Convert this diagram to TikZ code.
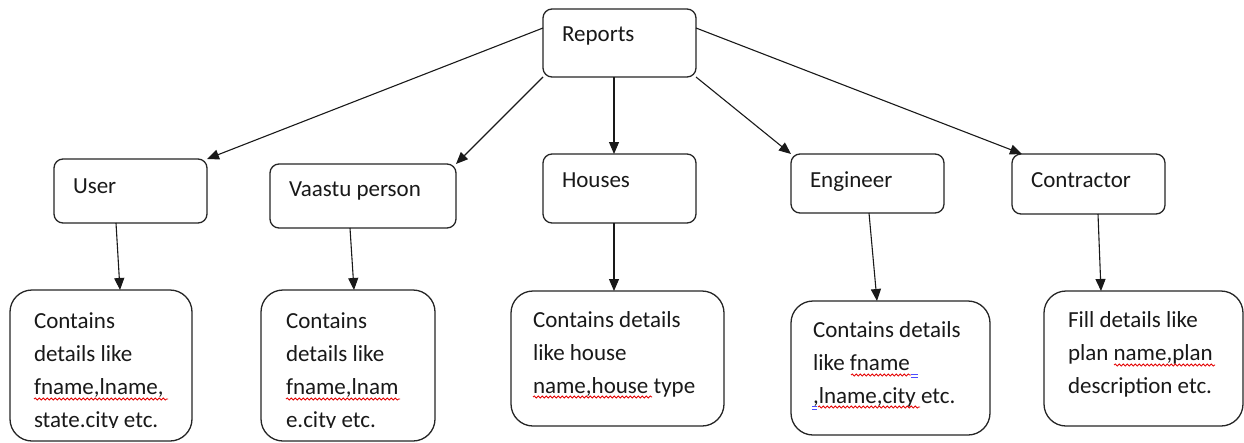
\documentclass[tikz,border=0pt]{standalone}
\usepackage{fontspec}
\setmainfont{Carlito}
\usetikzlibrary{arrows.meta,decorations.pathmorphing}
\begin{document}
\begin{tikzpicture}[x=1pt,y=-1pt,
  box/.style={draw=black!85, line width=1.3pt, rounded corners=9pt, inner sep=0pt, outer sep=0pt, anchor=north west},
  bigbox/.style={box, rounded corners=22pt},
  txt/.style={anchor=north west, inner sep=0pt, outer sep=0pt, align=left, font=\fontsize{23}{33}\selectfont, text=black!90},
  arr/.style={-{Triangle[length=12pt,width=10pt]}, line width=1.1pt, draw=black!90},
  spell/.style={draw=red!90!black, line width=0.8pt, decorate, decoration={snake, segment length=4pt, amplitude=1.1pt}},
  gram/.style={draw=blue!70, line width=0.8pt}
]
\clip (0,0) rectangle (1244,442);
\fill[white] (0,0) rectangle (1244,442);

% top level boxes
\node[box, minimum width=153pt, minimum height=68pt] (rep) at (543,9) {};
\node[box, minimum width=153pt, minimum height=64pt] (user) at (54,159) {};
\node[box, minimum width=186pt, minimum height=64pt] (vaastu) at (270,164) {};
\node[box, minimum width=153pt, minimum height=69pt] (houses) at (543,154) {};
\node[box, minimum width=153pt, minimum height=59pt] (eng) at (791,154) {};
\node[box, minimum width=153pt, minimum height=60pt] (contr) at (1012,154) {};

% detail boxes
\node[bigbox, minimum width=182pt, minimum height=151pt] (d1) at (10,290) {};
\node[bigbox, minimum width=174pt, minimum height=151pt] (d2) at (261,290) {};
\node[bigbox, minimum width=213pt, minimum height=135pt] (d3) at (511,291) {};
\node[bigbox, minimum width=199pt, minimum height=134pt] (d4) at (791,301) {};
\node[bigbox, minimum width=199pt, minimum height=135pt] (d5) at (1044,291) {};

% labels
\node[txt] (trep) at (562,17.9) {\strut Reports};
\node[txt] (tuser) at (73,169.9) {\strut User};
\node[txt] (tvaastu) at (289,172.9) {\strut Vaastu person};
\node[txt] (thouses) at (562,163.9) {\strut Houses};
\node[txt] (teng) at (810,163.9) {\strut Engineer};
\node[txt] (tcontr) at (1031,163.9) {\strut Contractor};

\begin{scope}
\clip (0,280) rectangle (450,427.5);
\node[txt] (td1) at (34,305.4) {\strut Contains\\details like\\fname,lname,\\state.city etc.};
\node[txt] (td2) at (286,305.4) {\strut Contains\\details like\\fname,lnam\\e.city etc.};
\end{scope}
\node[txt] (td3) at (533,303.9) {\strut Contains details\\like house\\name,house type};
\node[txt] (td4) at (813,313.9) {\strut Contains details\\like fname \\,lname,city etc.};
\node[txt] (td5) at (1068,303.9) {\strut Fill details like\\plan name,plan\\description etc.};

% spelling marks
\draw[spell] (34,399) -- (168,399);
\draw[spell] (286,399) -- (400,399);
\draw[spell] (533,397) -- (652,397);
\draw[spell] (851,375) -- (911,375);
\draw[gram] (911,374) -- (918,374) (911,377) -- (918,377);
\draw[spell] (818,407) -- (920,407);
\draw[gram] (812,406) -- (817,406) (812,409) -- (817,409);
\draw[spell] (1114,365) -- (1215,365);

% connectors
\draw[arr] ([yshift=-19pt]rep.north west) -- (user.north east);
\draw[arr] (rep.south west) -- (vaastu.north east);
\draw[arr] ([xshift=-5.5pt]rep.south) -- ([xshift=-5.5pt]houses.north);
\draw[arr] (rep.south east) -- (eng.north west);
\draw[arr] ([yshift=-19pt]rep.north east) -- ([xshift=10pt]contr.north west);

\draw[arr] ([xshift=-14.5pt]user.south) -- ([xshift=19pt]d1.north);
\draw[arr] ([xshift=-13pt]vaastu.south) -- ([xshift=6pt]d2.north);
\draw[arr] ([xshift=-5.5pt]houses.south) -- ([xshift=-3.5pt]d3.north);
\draw[arr] ([xshift=1.5pt]eng.south) -- ([xshift=-13.5pt]d4.north);
\draw[arr] ([xshift=9.5pt]contr.south) -- ([xshift=-42.5pt]d5.north);
\end{tikzpicture}
\end{document}
